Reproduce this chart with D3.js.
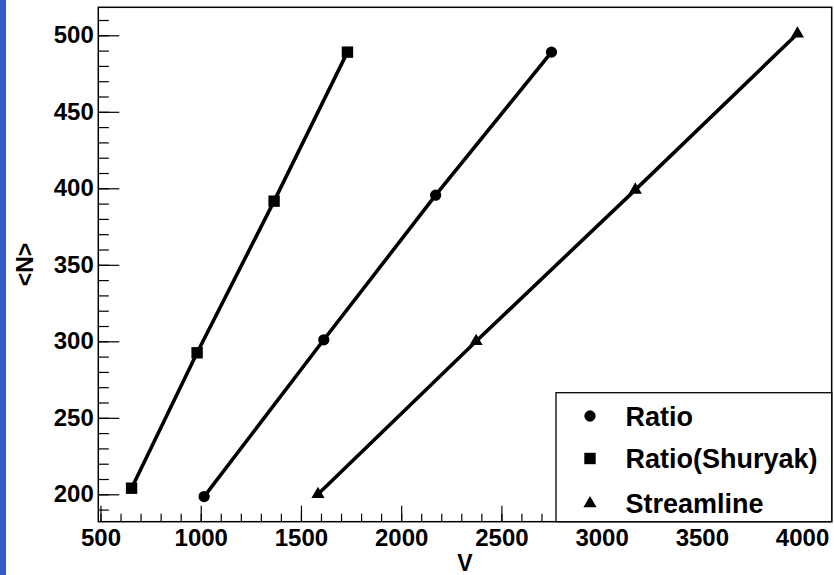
<!DOCTYPE html>
<html>
<head>
<meta charset="utf-8">
<script src="https://cdn.jsdelivr.net/npm/d3@7"></script>
<style>
  html, body { margin: 0; padding: 0; background: #ffffff; }
  svg { display: block; }
  text { font-family: "Liberation Sans", Arial, Helvetica, sans-serif; font-weight: bold; fill: #000; }
</style>
</head>
<body>
<svg id="chart" width="834" height="575"></svg>
<script>
// Series: volume V versus mean multiplicity <N>
const ratioV = [1017, 1614, 2172, 2750];
const ratioN = [198.5, 301, 395.5, 489];
const shuryakV = [655, 982, 1366, 1732];
const shuryakN = [204, 292.5, 391.6, 489];
const streamV = [1585, 2374, 3168, 3977];
const streamN = [200, 300, 399, 501];

const seriesNames = ["Ratio", "Ratio(Shuryak)", "Streamline"];
const seriesSymbols = [d3.symbolCircle, d3.symbolSquare, d3.symbolTriangle];

const xTicks = [500, 1000, 1500, 2000, 2500, 3000, 3500, 4000];
const yTicks = [200, 250, 300, 350, 400, 450, 500];
const xMinorTicks = d3.range(500, 4101, 100);
const yMinorTicks = d3.range(190, 511, 10);

const xDomain = [489, 4148];
const yDomain = [182.1, 518.3];

const svg = d3.select("#chart");

// Left blue band
svg.append("rect").attr("x", 0).attr("y", 0).attr("width", 6).attr("height", 575).attr("fill", "#3359c6");

const frame = { left: 98.3, right: 831.7, top: 7.3, bottom: 521.7 };
const x = d3.scaleLinear().domain(xDomain).range([frame.left, frame.right]);
const y = d3.scaleLinear().domain(yDomain).range([frame.bottom, frame.top]);

// Minor ticks (inward)
svg.append("g")
  .attr("transform", `translate(0,${frame.bottom})`)
  .call(d3.axisBottom(x).tickValues(xMinorTicks).tickSizeInner(-8).tickSizeOuter(0).tickFormat(""))
  .call(g => g.select(".domain").remove())
  .call(g => g.selectAll("line").attr("stroke", "#000").attr("stroke-width", 1.2));

svg.append("g")
  .attr("transform", `translate(${frame.left},0)`)
  .call(d3.axisLeft(y).tickValues(yMinorTicks).tickSizeInner(-10.5).tickSizeOuter(0).tickFormat(""))
  .call(g => g.select(".domain").remove())
  .call(g => g.selectAll("line").attr("stroke", "#000").attr("stroke-width", 1.2));

// Major ticks with labels
svg.append("g")
  .attr("transform", `translate(0,${frame.bottom})`)
  .call(d3.axisBottom(x).tickValues(xTicks).tickSizeInner(-16).tickSizeOuter(0).tickPadding(7).tickFormat(d3.format("d")))
  .call(g => g.select(".domain").remove())
  .call(g => g.selectAll("line").attr("stroke", "#000").attr("stroke-width", 1.2))
  .call(g => g.selectAll("text").attr("font-size", 24).attr("font-family", null).attr("fill", "#000"));

svg.append("g")
  .attr("transform", `translate(${frame.left},0)`)
  .call(d3.axisLeft(y).tickValues(yTicks).tickSizeInner(-21).tickSizeOuter(0).tickPadding(4.5).tickFormat(d3.format("d")))
  .call(g => g.select(".domain").remove())
  .call(g => g.selectAll("line").attr("stroke", "#000").attr("stroke-width", 1.2))
  .call(g => g.selectAll("text").attr("font-size", 24).attr("font-family", null).attr("fill", "#000"));

// Frame
svg.append("rect")
  .attr("x", frame.left).attr("y", frame.top)
  .attr("width", frame.right - frame.left).attr("height", frame.bottom - frame.top)
  .attr("fill", "none").attr("stroke", "#000").attr("stroke-width", 1.5);

// Axis titles
svg.append("text")
  .attr("x", (frame.left + frame.right) / 2).attr("y", 571)
  .attr("text-anchor", "middle").attr("font-size", 23).text("V");

svg.append("text")
  .attr("transform", `translate(32.5,${(frame.top + frame.bottom) / 2}) rotate(-90)`)
  .attr("text-anchor", "middle").attr("font-size", 23).text("<N>");

// Data lines and markers
const series = [
  { v: ratioV, n: ratioN, sym: seriesSymbols[0], size: 100 },
  { v: shuryakV, n: shuryakN, sym: seriesSymbols[1], size: 130 },
  { v: streamV, n: streamN, sym: seriesSymbols[2], size: 75 }
];
const line = d3.line().x(d => x(d[0])).y(d => y(d[1]));

series.forEach(s => {
  const pts = s.v.map((v, i) => [v, s.n[i]]);
  svg.append("path").datum(pts).attr("d", line)
    .attr("fill", "none").attr("stroke", "#000").attr("stroke-width", 3.6);
  svg.append("g").selectAll("path").data(pts).join("path")
    .attr("transform", d => `translate(${x(d[0])},${y(d[1])})`)
    .attr("d", d3.symbol().type(s.sym).size(s.size))
    .attr("fill", "#000");
});

// Legend
const legend = { x0: 556, x1: frame.right, y0: 392.7, y1: frame.bottom };
svg.append("rect")
  .attr("x", legend.x0).attr("y", legend.y0)
  .attr("width", legend.x1 - legend.x0).attr("height", legend.y1 - legend.y0)
  .attr("fill", "#fff").attr("stroke", "#000").attr("stroke-width", 1.3);

const rowY = [416, 458.5, 503.5];
seriesNames.forEach((name, i) => {
  svg.append("path")
    .attr("transform", `translate(590,${rowY[i]})`)
    .attr("d", d3.symbol().type(series[i].sym).size(series[i].size))
    .attr("fill", "#000");
  svg.append("text")
    .attr("x", 625.5).attr("y", rowY[i]).attr("dy", "0.36em")
    .attr("font-size", 27).text(name);
});
</script>
</body>
</html>
